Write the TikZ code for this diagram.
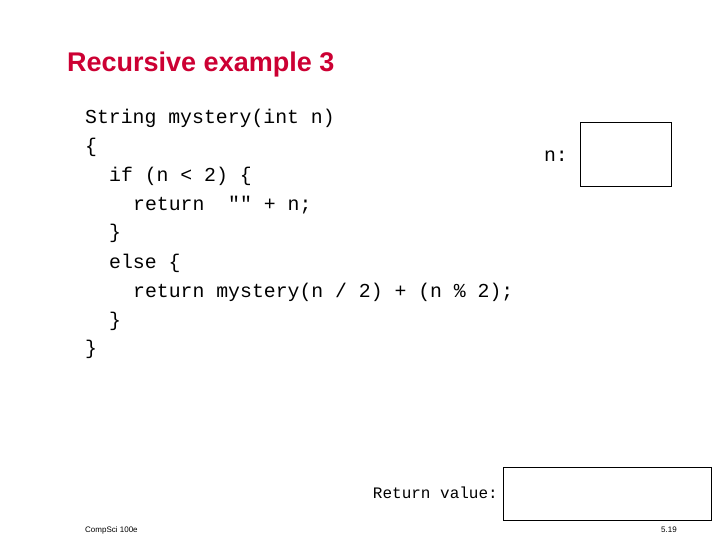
\documentclass[tikz,border=0pt]{standalone}
\usepackage{fontspec}
\setmainfont{Liberation Sans}
\setmonofont{Liberation Mono}
\definecolor{titlered}{RGB}{204,0,51}
\tikzset{
  code/.style={anchor=base west, inner sep=0pt, font=\fontsize{19.8}{22}\ttfamily},
  valbox/.style={draw, thick, inner sep=0pt},
  foot/.style={anchor=base west, inner sep=0pt, font=\fontsize{8}{9}\selectfont}
}
\begin{document}
\begin{tikzpicture}[x=1pt,y=-1pt]
    \useasboundingbox (0,0) rectangle (720,540);

    % Titel
    \node[anchor=base west, inner sep=0pt, text=titlered, font=\fontsize{27}{30}\bfseries] (title) at (67,72) {Recursive example 3};

    % Code
    \node[code] (l1) at (85,124) {String mystery(int n)};
    \node[code] (l2) at (85,153) {\{};
    \node[code] (l3) at (109,182) {if (n < 2) \{};
    \node[code] (l4) at (133,211) {return \ "" + n;};
    \node[code] (l5) at (109,239) {\}};
    \node[code] (l6) at (109,268) {else \{};
    \node[code] (l7) at (133,297) {return mystery(n / 2) + (n \% 2);};
    \node[code] (l8) at (109,326) {\}};
    \node[code] (l9) at (85,354) {\}};

    % Kasten n
    \node[valbox, minimum width=91, minimum height=64, anchor=north west] (nbox) at (580,122) {};
    \node[code, anchor=base east] (nlab) at (568,162) {n:};

    % Kasten Rueckgabe
    \node[valbox, minimum width=208, minimum height=53, anchor=north west] (retbox) at (503,467) {};
    \node[code, anchor=base east, font=\fontsize{16}{18}\ttfamily] (retlab) at (498,498) {Return value:};

    % Fusszeile
    \node[foot] (course) at (85,532) {CompSci 100e};
    \node[foot, anchor=base east] (page) at (677,532) {5.19};
\end{tikzpicture}
\end{document}
